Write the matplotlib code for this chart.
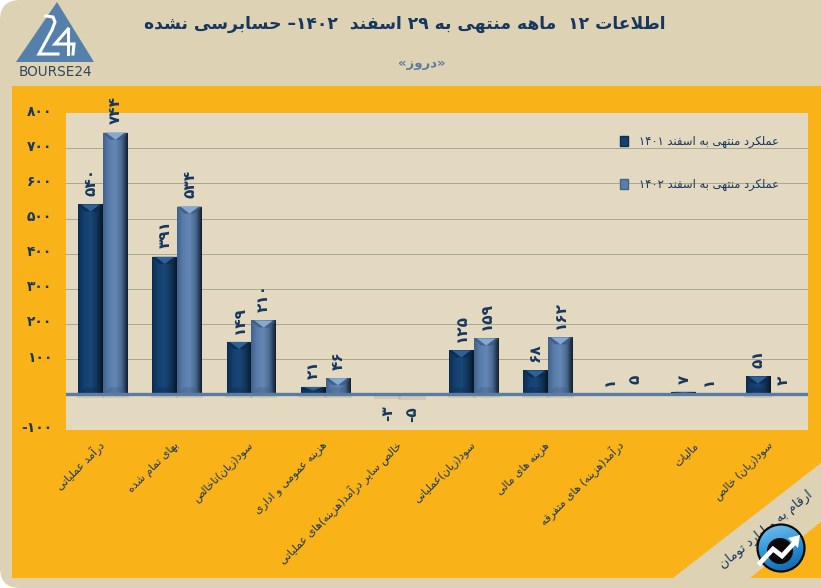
"""Persian bar chart of 12 month results, drawn with matplotlib."""

import numpy as np
import matplotlib
matplotlib.use("Agg")
import matplotlib.pyplot as plt
from matplotlib.colors import LinearSegmentedColormap
from matplotlib.patches import Circle, FancyBboxPatch, Patch, Polygon
from matplotlib.transforms import ScaledTranslation

plt.rcParams['font.family'] = ['DejaVu Sans']

categories = [
    "درآمد عملیاتی",
    "بهای تمام شده",
    "سود(زیان)ناخالص",
    "هزینه عمومی و اداری",
    "خالص سایر درآمد(هزینه)های عملیاتی",
    "سود(زیان)عملیاتی",
    "هزینه های مالی",
    "درآمد(هزینه) های متفرقه",
    "مالیات",
    "سود(زیان) خالص",
]
values_1401 = [540, 391, 149, 21, -3, 125, 68, 1, 7, 51]
values_1402 = [744, 534, 210, 46, -5, 159, 162, 5, 1, 2]
y_ticks = [-100, 100, 200, 300, 400, 500, 600, 700, 800]

title_text = "اطلاعات ۱۲  ماهه منتهی به ۲۹ اسفند  ۱۴۰۲– حسابرسی نشده"
subtitle_text = "«دروز»"
legend_1401 = "عملکرد منتهی به اسفند ۱۴۰۱"
legend_1402 = "عملکرد منتهی به اسفند ۱۴۰۲"
unit_text = "ارقام به میلیارد تومان"

TAN = "#DDD2B4"
PLOT_BG = "#E3D9C0"
ORANGE = "#F9B218"
NAVY = "#17375E"

# isolated, final, initial, medial
forms = {
    "ا": "\uFE8D\uFE8E", "آ": "\uFE81\uFE82", "د": "\uFEA9\uFEAA", "ذ": "\uFEAB\uFEAC",
    "ر": "\uFEAD\uFEAE", "ز": "\uFEAF\uFEB0", "ژ": "\uFB8A\uFB8B", "و": "\uFEED\uFEEE",
    "ب": "\uFE8F\uFE90\uFE91\uFE92", "پ": "\uFB56\uFB57\uFB58\uFB59",
    "ت": "\uFE95\uFE96\uFE97\uFE98", "ث": "\uFE99\uFE9A\uFE9B\uFE9C",
    "ج": "\uFE9D\uFE9E\uFE9F\uFEA0", "چ": "\uFB7A\uFB7B\uFB7C\uFB7D",
    "ح": "\uFEA1\uFEA2\uFEA3\uFEA4", "خ": "\uFEA5\uFEA6\uFEA7\uFEA8",
    "س": "\uFEB1\uFEB2\uFEB3\uFEB4", "ش": "\uFEB5\uFEB6\uFEB7\uFEB8",
    "ص": "\uFEB9\uFEBA\uFEBB\uFEBC", "ض": "\uFEBD\uFEBE\uFEBF\uFEC0",
    "ط": "\uFEC1\uFEC2\uFEC3\uFEC4", "ظ": "\uFEC5\uFEC6\uFEC7\uFEC8",
    "ع": "\uFEC9\uFECA\uFECB\uFECC", "غ": "\uFECD\uFECE\uFECF\uFED0",
    "ف": "\uFED1\uFED2\uFED3\uFED4", "ق": "\uFED5\uFED6\uFED7\uFED8",
    "ک": "\uFB8E\uFB8F\uFB90\uFB91", "گ": "\uFB92\uFB93\uFB94\uFB95",
    "ل": "\uFEDD\uFEDE\uFEDF\uFEE0", "م": "\uFEE1\uFEE2\uFEE3\uFEE4",
    "ن": "\uFEE5\uFEE6\uFEE7\uFEE8", "ه": "\uFEE9\uFEEA\uFEEB\uFEEC",
    "ی": "\uFBFC\uFBFD\uFBFE\uFBFF",
}
mirror = {"(": ")", ")": "(", "«": "»", "»": "«"}
digits = "۰۱۲۳۴۵۶۷۸۹"


# matplotlib does no arabic shaping, so pick the joined glyphs and reverse by hand
def fa(text):
    out = []
    for i, ch in enumerate(text):
        if ch not in forms:
            out.append(mirror.get(ch, ch))
            continue
        prev = text[i - 1] if i > 0 else ""
        nxt = text[i + 1] if i + 1 < len(text) else ""
        joins_prev = prev in forms and len(forms[prev]) == 4
        joins_next = nxt in forms and len(forms[ch]) == 4
        # lam alef
        if ch == "ا" and prev == "ل":
            continue
        if ch == "ل" and nxt == "ا":
            out.append("\uFEFC" if joins_prev else "\uFEFB")
            continue
        if joins_prev and joins_next:
            out.append(forms[ch][3])
        elif joins_next:
            out.append(forms[ch][2])
        elif joins_prev:
            out.append(forms[ch][1])
        else:
            out.append(forms[ch][0])
    # visual order, digit runs stay left to right
    res = ""
    run = ""
    for ch in reversed(out):
        if ch in digits:
            run = ch + run
        else:
            res += run + ch
            run = ""
    return res + run


def fa_num(v):
    return "".join(digits[int(c)] if c.isdigit() else c for c in str(v))


fig = plt.figure(figsize=(8.21, 5.88), dpi=100, facecolor="white")

# background layer in pixel coordinates
bg = fig.add_axes([0, 0, 1, 1], zorder=0)
bg.set_xlim(0, 821)
bg.set_ylim(588, 0)
bg.axis("off")
bg.add_patch(FancyBboxPatch((0, 0), 900, 588, boxstyle="round,pad=0,rounding_size=20",
                            fc=TAN, ec="none"))
bg.add_patch(Polygon([(12, 86), (821, 86), (821, 578), (12, 578)], fc=ORANGE, ec="none"))
bg.add_patch(Polygon([(821, 463), (673, 578), (750, 578), (821, 522)], fc=TAN, ec="none"))

# logo
bg.add_patch(Polygon([(57, 2), (16, 62), (94, 62)], fc="#5580AB", ec="none"))
bg.plot([46, 53, 55, 52, 39, 58], [16, 17, 22, 30, 54, 54], color="white", lw=2.2,
        solid_joinstyle="miter")
bg.plot([68, 55, 74, 73], [29, 44, 44, 54], color="white", lw=2.2, solid_joinstyle="miter")
bg.plot([68, 68], [29, 54], color="white", lw=2.2)
bg.text(55.5, 72, "BOURSE24", ha="center", va="center", fontsize=9.8, color="#33475F")

bg.text(405, 24, fa(title_text), ha="center", va="center", fontsize=12.3,
        fontweight="bold", color=NAVY)
bg.text(422, 64, fa(subtitle_text), ha="center", va="center", fontsize=9.5,
        fontweight="bold", color="#5C7C9F")
bg.text(766, 529, fa(unit_text), ha="center", va="center", rotation=39, fontsize=9.3,
        color=NAVY, rotation_mode="anchor")

# badge
rr = np.linspace(-1, 1, 64)
xx, yy = np.meshgrid(rr, rr)
badge_cmap = LinearSegmentedColormap.from_list("badge", ["#7CC4F0", "#2B93DA", "#0B5FA8"])
badge = bg.imshow(yy + 0.3 * xx, cmap=badge_cmap, extent=(757, 805, 572, 524), aspect="auto",
                  zorder=5, interpolation="bilinear")
badge.set_clip_path(Circle((781, 548), 23.5, transform=bg.transData))
bg.add_patch(Circle((781, 548), 23.5, fc="none", ec="#0A0A0A", lw=1.6, zorder=6))
bg.add_patch(Circle((780, 551), 13, fc="#0A0A0A", ec="none", zorder=6))
bg.plot([760, 773, 782, 796], [563, 549, 556, 541], color="white", lw=3.4, zorder=7,
        solid_joinstyle="miter")
bg.add_patch(Polygon([(800, 535), (788, 538), (798, 548)], fc="white", ec="none", zorder=7))
bg.set_xlim(0, 821)
bg.set_ylim(588, 0)

# chart
ax = fig.add_axes([66 / 821, (588 - 429.5) / 588, 741.5 / 821, 316.5 / 588], zorder=1)
ax.set_facecolor(PLOT_BG)
for s in ax.spines.values():
    s.set_visible(False)
ax.set_xlim(-0.5, 9.5)
ax.set_ylim(-100, 800)

x = np.arange(len(categories))
bar_w = 0.335

cmap_1401 = LinearSegmentedColormap.from_list(
    "s1", ["#0D2C52", "#15406F", "#184779", "#123659", "#071729"])
cmap_1402 = LinearSegmentedColormap.from_list(
    "s2", ["#41638C", "#5A7EAB", "#6487B4", "#4A6A92", "#131F30"])

px_x = 10 / 741.5   # data units per px on x
px_y = 900 / 316.5  # data units per px on y


def draw_bars(xs, vals, cmap, light, dark):
    bars = ax.bar(xs, vals, bar_w, color=cmap(0.4), zorder=3)
    for rect, v in zip(bars, vals):
        x0, w = rect.get_x(), rect.get_width()
        y0, h = rect.get_y(), rect.get_height()
        if v >= 10 or v < 0:
            low = min(v, 0)
            ax.bar(x0 + w / 2, -4 * px_y, w * 1.1, bottom=low, color="#8C8C84", alpha=0.22,
                   zorder=2)
        if abs(h) < 2 * px_y:
            continue
        im = ax.imshow(np.linspace(0, 1, 48)[None, :], cmap=cmap, vmin=0, vmax=1, aspect="auto",
                       extent=(x0, x0 + w, y0, y0 + h), zorder=3.1, interpolation="bilinear")
        im.set_clip_path(rect)
        top = y0 + h
        d = min(7 * px_y, h / 2)
        dx = d / px_y * px_x
        ax.add_patch(Polygon([(x0, top), (x0 + w, top), (x0 + w - dx, top - d), (x0 + dx, top - d)],
                             fc=dark, ec="none", alpha=0.75, zorder=3.2))
        ax.add_patch(Polygon([(x0 + 3 * px_x, top), (x0 + w - 3 * px_x, top),
                              (x0 + w / 2, top - d)],
                             fc=light, ec="none", zorder=3.3))
        ax.add_patch(Polygon([(x0, y0), (x0 + w, y0), (x0 + w - dx, y0 + d), (x0 + dx, y0 + d)],
                             fc=dark, ec="none", alpha=0.35, zorder=3.2))
    return bars


draw_bars(x - bar_w / 2, values_1401, cmap_1401, "#2E6196", "#0C2A4F")
draw_bars(x + bar_w / 2, values_1402, cmap_1402, "#84A9D3", "#3B5A80")

ax.axhline(0, color="#5A7CA3", lw=2.4, zorder=4)
ax.set_yticks(y_ticks)
ax.set_yticklabels([fa_num(t) for t in y_ticks], fontsize=10, fontweight="bold", color=NAVY)
ax.yaxis.grid(True, color="#ABA690", lw=0.7, zorder=1)
ax.set_axisbelow(True)
gl = ax.get_ygridlines()
gl[0].set_visible(False)
gl[-1].set_visible(False)
ax.tick_params(axis="both", length=0)
ax.tick_params(axis="y", pad=10)
# tick labels sit a little above their lines
up = ScaledTranslation(0, 3 / 100, fig.dpi_scale_trans)
for lab in ax.get_yticklabels():
    lab.set_transform(lab.get_transform() + up)

ax.set_xticks(x)
ax.set_xticklabels([fa(c) for c in categories], rotation=45, ha="right", va="center",
                   rotation_mode="anchor", fontsize=7.8, color=NAVY)
ax.tick_params(axis="x", pad=10)


def put_labels(xs, vals):
    for xi, v in zip(xs, vals):
        ax.annotate(fa_num(v), (xi, max(v, 0) if v >= 0 else v),
                    xytext=(0, 6 if v >= 0 else -7), textcoords="offset points",
                    ha="center", va="bottom" if v >= 0 else "top", rotation=90,
                    fontsize=11, fontweight="bold", color=NAVY, annotation_clip=False, zorder=6)


put_labels(x - bar_w / 2, values_1401)
put_labels(x + bar_w / 2, values_1402)

ax.legend(handles=[Patch(fc="#15406F", ec="#0D2C52", label=fa(legend_1401)),
                   Patch(fc="#5A7EAB", ec="#41638C", label=fa(legend_1402))],
          loc="upper left", bbox_to_anchor=(0.7475, 0.93), frameon=False, fontsize=8.3,
          labelcolor=NAVY, handlelength=0.7, handleheight=0.9, handletextpad=0.9,
          labelspacing=2.6, borderpad=0, borderaxespad=0)

fig.savefig("out.png", dpi=100, facecolor=fig.get_facecolor())
